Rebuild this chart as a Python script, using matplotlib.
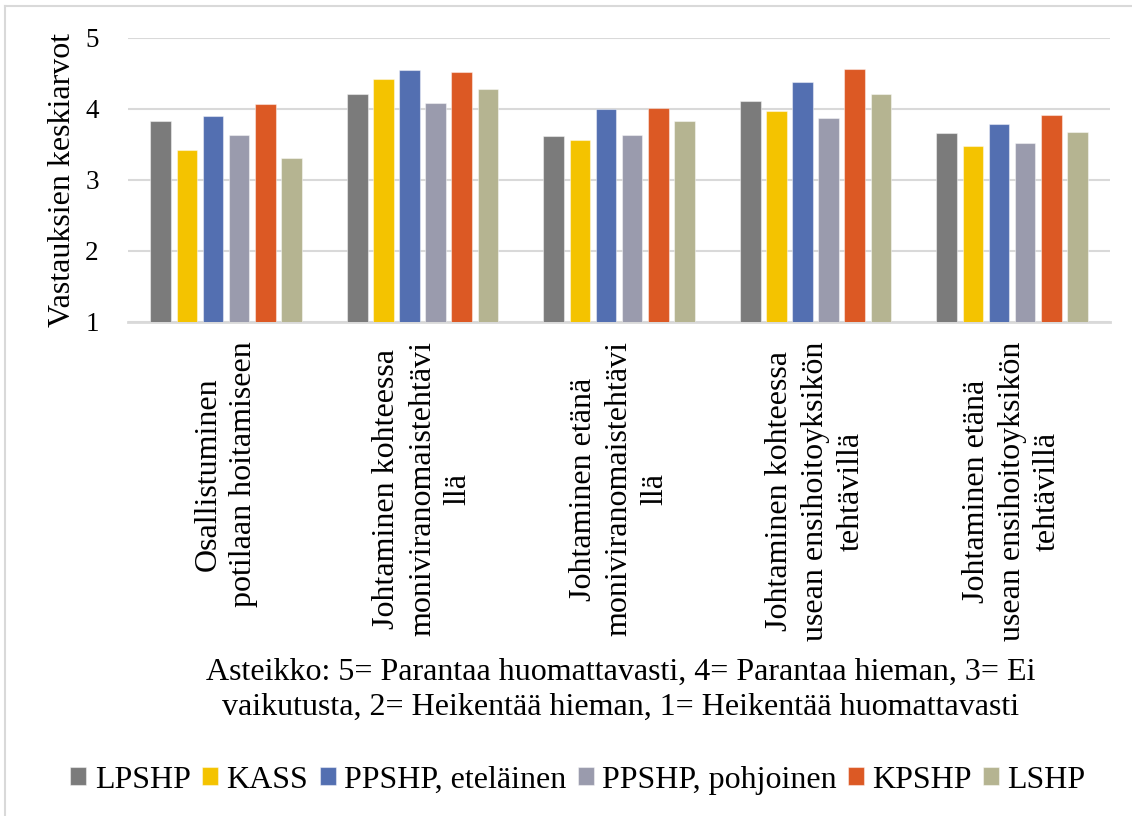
import numpy as np
import matplotlib
matplotlib.use('Agg')
import matplotlib.pyplot as plt
from matplotlib.lines import Line2D

plt.rcParams['font.family'] = 'serif'
plt.rcParams['font.serif'] = ['Liberation Serif', 'TeX Gyre Termes', 'DejaVu Serif']

categories = ["Osallistuminen\npotilaan hoitamiseen",
              "Johtaminen kohteessa\nmoniviranomaistehtävi\nllä",
              "Johtaminen etänä\nmoniviranomaistehtävi\nllä",
              "Johtaminen kohteessa\nusean ensihoitoyksikön\ntehtävillä",
              "Johtaminen etänä\nusean ensihoitoyksikön\ntehtävillä"]
series = ["LPSHP", "KASS", "PPSHP, eteläinen", "PPSHP, pohjoinen", "KPSHP", "LSHP"]
lpshp = [3.82, 4.20, 3.61, 4.11, 3.66]
kass = [3.42, 4.42, 3.56, 3.96, 3.48]
ppshp_e = [3.89, 4.55, 3.99, 4.37, 3.79]
ppshp_p = [3.63, 4.08, 3.63, 3.87, 3.51]
kpshp = [4.07, 4.51, 4.01, 4.56, 3.91]
lshp = [3.30, 4.27, 3.82, 4.20, 3.67]
colors = ['#7b7b7b', '#f4c300', '#536fb1', '#9a9bad', '#dc5924', '#b5b491']
note = ("Asteikko: 5= Parantaa huomattavasti, 4= Parantaa hieman, 3= Ei\n"
        "vaikutusta, 2= Heikentää hieman, 1= Heikentää huomattavasti")

data = [lpshp, kass, ppshp_e, ppshp_p, kpshp, lshp]

fig = plt.figure(figsize=(11.32, 8.16), dpi=100)
ax = fig.add_axes([0.1129, 0.6054, 0.8679, 0.3486])

x = np.arange(len(categories))
slot = 0.133
width = 0.105
for i, (name, vals, col) in enumerate(zip(series, data, colors)):
    ax.bar(x + (i - 2.5) * slot, vals, width, color=col, label=name, zorder=3,
           edgecolor=(1, 1, 1, 0.45), linewidth=0.8)

ax.set_xlim(-0.5, 4.5)
ax.set_ylim(1, 5)
ax.set_yticks([1, 2, 3, 4, 5])
ax.yaxis.grid(True, color='#d9d9d9', lw=1.5)
ax.set_axisbelow(True)
ax.axhline(1, color='#d9d9d9', lw=2, clip_on=False, zorder=2)
for s in ax.spines.values():
    s.set_visible(False)
ax.tick_params(length=0)
ax.tick_params(axis='y', labelsize=19.5, pad=21)
ax.tick_params(axis='x', pad=14)
ax.set_xticks(x)
ax.set_xticklabels(categories, rotation=90, fontsize=23, ha='center', va='top',
                   multialignment='center', linespacing=1.3)

fig.text(0.055, 0.779, 'Vastauksien keskiarvot', rotation=90, ha='center',
         va='center', fontsize=23)
fig.text(0.548, 0.1544, note, ha='center', va='center', fontsize=23,
         multialignment='center', linespacing=1.3)

fig.legend(loc='center', bbox_to_anchor=(0.5106, 0.0441), ncol=6, frameon=False,
           fontsize=23, handlelength=0.5, handleheight=0.5, handletextpad=0.26,
           columnspacing=0.36, borderaxespad=0)

# outer frame (only left and top edges visible)
fig.add_artist(Line2D([5 / 1132, 5 / 1132], [0, 1 - 6 / 816], color='#d9d9d9', lw=1.5))
fig.add_artist(Line2D([5 / 1132, 1], [1 - 6 / 816, 1 - 6 / 816], color='#d9d9d9', lw=1.5))

fig.savefig('out.png', dpi=100)
